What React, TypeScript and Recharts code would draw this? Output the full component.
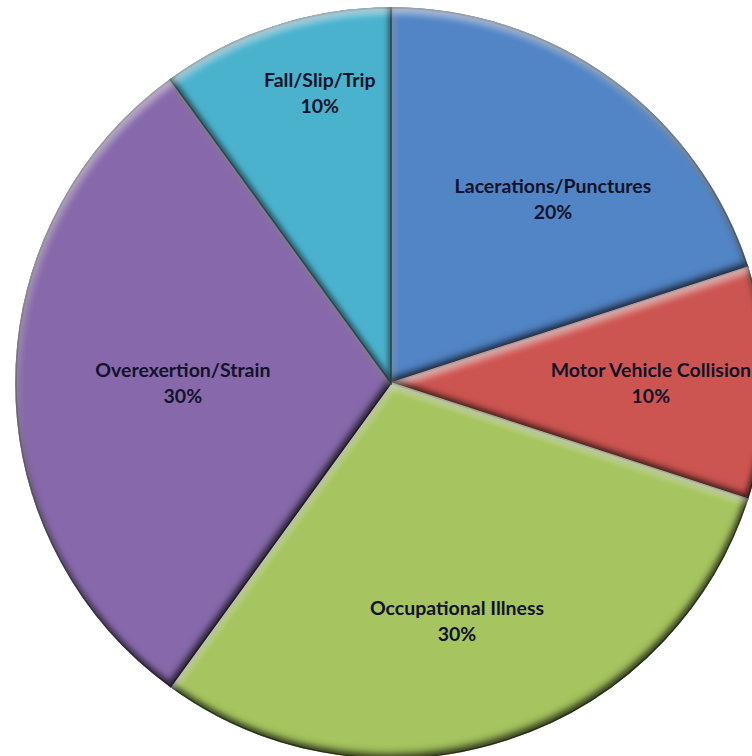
import React from 'react';
import { PieChart, Pie, Cell } from 'recharts';

const categories = [
  'Lacerations/Punctures',
  'Motor Vehicle Collision',
  'Occupational Illness',
  'Overexertion/Strain',
  'Fall/Slip/Trip',
];
const shares = [20, 10, 30, 30, 10];
const sliceColors = ['#5285C6', '#CD5551', '#A6C45F', '#8769AB', '#4BB2CE'];
const edgeColors = ['#2A4C7A', '#7F2A27', '#617A2E', '#4E3A6C', '#277388'];

// label placement inside each slice (fraction of radius, clockwise turn in degrees)
const labelRadius = [0.653, 0.693, 0.659, 0.555, 0.796];
const labelTurn = [5.4, 0, 2.5, 0, 4.2];

const data = categories.map((name, i) => ({ name, value: shares[i] }));

const RADIAN = Math.PI / 180;

function renderLabel(props: any) {
  const { cx, cy, midAngle, outerRadius, index, percent } = props;
  const r = outerRadius * labelRadius[index];
  const a = (midAngle - labelTurn[index]) * RADIAN;
  const x = cx + r * Math.cos(a);
  const y = cy - r * Math.sin(a);
  return (
    <text
      x={x}
      y={y}
      textAnchor="middle"
      fill="#12122a"
      fontFamily="Lato, 'Open Sans', sans-serif"
      fontWeight={700}
      fontSize={19.5}
    >
      <tspan x={x} dy={-6}>{categories[index]}</tspan>
      <tspan x={x} dy={26}>{`${Math.round(percent * 100)}%`}</tspan>
    </text>
  );
}

export default function App() {
  return (
    <div style={{ position: 'absolute', left: 0, top: 0, width: 752, height: 756, background: '#fff' }}>
      <PieChart width={752} height={756} margin={{ top: 0, right: 0, bottom: 0, left: 0 }}>
        <defs>
          <filter id="bevel" x="-5%" y="-5%" width="110%" height="110%" colorInterpolationFilters="sRGB">
            <feGaussianBlur in="SourceAlpha" stdDeviation="3.5" result="blur" />
            <feOffset in="blur" dx="2" dy="6" result="offA" />
            <feComposite in="SourceAlpha" in2="offA" operator="out" result="topEdge" />
            <feFlood floodColor="#ffffff" floodOpacity="0.6" />
            <feComposite in2="topEdge" operator="in" result="hi" />
            <feOffset in="blur" dx="-2" dy="-6" result="offB" />
            <feComposite in="SourceAlpha" in2="offB" operator="out" result="botEdge" />
            <feFlood floodColor="#000000" floodOpacity="0.5" />
            <feComposite in2="botEdge" operator="in" result="lo" />
            <feMorphology in="SourceAlpha" operator="erode" radius="3" result="inner" />
            <feGaussianBlur in="inner" stdDeviation="2" result="innerBlur" />
            <feComposite in="SourceAlpha" in2="innerBlur" operator="out" result="rim" />
            <feFlood floodColor="#000000" floodOpacity="0.3" />
            <feComposite in2="rim" operator="in" result="rimShade" />
            <feMerge>
              <feMergeNode in="SourceGraphic" />
              <feMergeNode in="rimShade" />
              <feMergeNode in="hi" />
              <feMergeNode in="lo" />
            </feMerge>
          </filter>
        </defs>
        <Pie
          data={data}
          dataKey="value"
          nameKey="name"
          cx={391}
          cy={383}
          innerRadius={0}
          outerRadius={375}
          startAngle={90}
          endAngle={-270}
          label={renderLabel}
          labelLine={false}
          isAnimationActive={false}
        >
          {data.map((d, i) => (
            <Cell
              key={d.name}
              fill={sliceColors[i]}
              stroke={edgeColors[i]}
              strokeWidth={1.5}
              filter="url(#bevel)"
            />
          ))}
        </Pie>
      </PieChart>
    </div>
  );
}
